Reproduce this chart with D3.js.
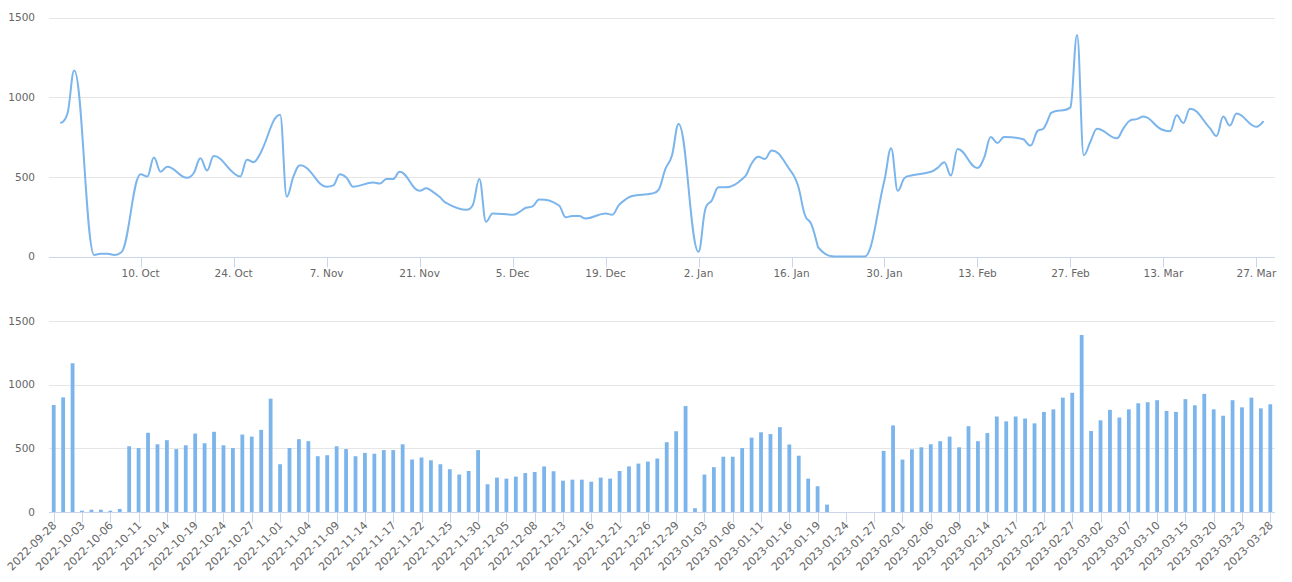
<!DOCTYPE html>
<html>
<head>
<meta charset="utf-8">
<script src="https://cdn.jsdelivr.net/npm/d3@7"></script>
<style>
  html, body { margin: 0; padding: 0; background: #fff; }
  svg { display: block; }
  text { font-family: "DejaVu Sans", Verdana, sans-serif; font-size: 10.5px; fill: #666666; }
  text.rot { font-size: 11px; }
</style>
</head>
<body>
<svg id="chart" width="1292" height="582"></svg>
<script>
// ---------- data ----------
const categories = [
  "2022-09-28","2022-09-29","2022-09-30",
  "2022-10-03","2022-10-04","2022-10-05","2022-10-06","2022-10-07",
  "2022-10-10","2022-10-11","2022-10-12","2022-10-13","2022-10-14",
  "2022-10-17","2022-10-18","2022-10-19","2022-10-20","2022-10-21",
  "2022-10-24","2022-10-25","2022-10-26","2022-10-27","2022-10-28",
  "2022-10-31","2022-11-01","2022-11-02","2022-11-03","2022-11-04",
  "2022-11-07","2022-11-08","2022-11-09","2022-11-10","2022-11-11",
  "2022-11-14","2022-11-15","2022-11-16","2022-11-17","2022-11-18",
  "2022-11-21","2022-11-22","2022-11-23","2022-11-24","2022-11-25",
  "2022-11-28","2022-11-29","2022-11-30","2022-12-01","2022-12-02",
  "2022-12-05","2022-12-06","2022-12-07","2022-12-08","2022-12-09",
  "2022-12-12","2022-12-13","2022-12-14","2022-12-15","2022-12-16",
  "2022-12-19","2022-12-20","2022-12-21","2022-12-22","2022-12-23",
  "2022-12-26","2022-12-27","2022-12-28","2022-12-29","2022-12-30",
  "2023-01-02","2023-01-03","2023-01-04","2023-01-05","2023-01-06",
  "2023-01-09","2023-01-10","2023-01-11","2023-01-12","2023-01-13",
  "2023-01-16","2023-01-17","2023-01-18","2023-01-19","2023-01-20",
  "2023-01-23","2023-01-24","2023-01-25","2023-01-26","2023-01-27",
  "2023-01-30","2023-01-31","2023-02-01","2023-02-02","2023-02-03",
  "2023-02-06","2023-02-07","2023-02-08","2023-02-09","2023-02-10",
  "2023-02-13","2023-02-14","2023-02-15","2023-02-16","2023-02-17",
  "2023-02-20","2023-02-21","2023-02-22","2023-02-23","2023-02-24",
  "2023-02-27","2023-02-28","2023-03-01","2023-03-02","2023-03-03",
  "2023-03-06","2023-03-07","2023-03-08","2023-03-09","2023-03-10",
  "2023-03-13","2023-03-14","2023-03-15","2023-03-16","2023-03-17",
  "2023-03-20","2023-03-21","2023-03-22","2023-03-23","2023-03-24",
  "2023-03-27","2023-03-28"
];

const values = [
  840, 900, 1168,
  10, 18, 18, 10, 24,
  516, 502, 622, 532, 564,
  494, 524, 616, 540, 630,
  524, 502, 608, 592, 645,
  890, 375, 502, 572, 556,
  438, 446, 516, 494, 438,
  464, 458, 486, 486, 532,
  412, 428, 406, 375, 336,
  294, 322, 486, 218, 270,
  262, 278, 306, 314, 358,
  320, 246, 254, 254, 238,
  270, 262, 322, 358, 380,
  396, 420, 548, 634, 832,
  30, 294, 352, 434, 434,
  502, 584, 626, 612, 666,
  530, 442, 262, 202, 58,
  0, 0, 0, 0, 0,
  480, 680, 412, 492, 508,
  532, 556, 592, 508, 674,
  556, 620, 750, 712, 750,
  734, 696, 786, 806, 898,
  936, 1390, 636, 720, 802,
  742, 806, 854, 862, 878,
  794, 786, 886, 838, 928,
  806, 756, 878, 822, 898,
  814, 846
];

const yTicks = [0, 500, 1000, 1500];
const topTickDates = [
  "2022-10-10","2022-10-24","2022-11-07","2022-11-21","2022-12-05","2022-12-19",
  "2023-01-02","2023-01-16","2023-01-30","2023-02-13","2023-02-27","2023-03-13","2023-03-27"
];
const labelEvery = 3;

// ---------- helpers ----------
const parse = d3.utcParse("%Y-%m-%d");
const dates = categories.map(parse);
const fmtTop = d3.utcFormat("%-d. %b");

// Highcharts-style spline curve
function hcSpline(context) {
  let pts;
  return {
    areaStart() {}, areaEnd() {},
    lineStart() { pts = []; },
    point(x, y) { pts.push([+x, +y]); },
    lineEnd() {
      const n = pts.length;
      if (!n) return;
      const s = 1.5, den = s + 1;
      let prevRight = null;
      context.moveTo(pts[0][0], pts[0][1]);
      for (let i = 1; i < n; i++) {
        const px = pts[i][0], py = pts[i][1];
        let lcx = px, lcy = py, rc = null;
        if (i < n - 1) {
          const lx = pts[i - 1][0], ly = pts[i - 1][1];
          const nx = pts[i + 1][0], ny = pts[i + 1][1];
          lcx = (s * px + lx) / den; lcy = (s * py + ly) / den;
          let rcx = (s * px + nx) / den, rcy = (s * py + ny) / den;
          let corr = 0;
          if (rcx !== lcx) corr = ((rcy - lcy) * (rcx - px)) / (rcx - lcx) + py - rcy;
          lcy += corr; rcy += corr;
          if (lcy > ly && lcy > py) { lcy = Math.max(ly, py); rcy = 2 * py - lcy; }
          else if (lcy < ly && lcy < py) { lcy = Math.min(ly, py); rcy = 2 * py - lcy; }
          if (rcy > ny && rcy > py) { rcy = Math.max(ny, py); lcy = 2 * py - rcy; }
          else if (rcy < ny && rcy < py) { rcy = Math.min(ny, py); lcy = 2 * py - rcy; }
          rc = [rcx, rcy];
        }
        const a = prevRight || pts[i - 1];
        context.bezierCurveTo(a[0], a[1], lcx, lcy, px, py);
        prevRight = rc;
      }
    }
  };
}

const svg = d3.select("#chart");
const plotLeft = 49, plotRight = 1275;
const color = "#7cb5ec";
const gridColor = "#e6e6e6";
const axisColor = "#ccd6eb";
const DAY = 864e5;

// ---------- top: spline over time ----------
const topArea = { y0: 256.5, y1: 17.5 };
const pad = 1.8 * DAY;
const xTime = d3.scaleUtc()
  .domain([new Date(+dates[0] - pad), new Date(+dates[dates.length - 1] + pad)])
  .range([plotLeft, plotRight]);
const yTop = d3.scaleLinear().domain([0, 1500]).range([topArea.y0, topArea.y1]);

const gTop = svg.append("g");
gTop.append("g").selectAll("line").data(yTicks).join("line")
  .attr("x1", plotLeft).attr("x2", plotRight)
  .attr("y1", d => Math.round(yTop(d)) + 0.5).attr("y2", d => Math.round(yTop(d)) + 0.5)
  .attr("stroke", gridColor).attr("stroke-width", 1);
gTop.append("g").selectAll("text").data(yTicks).join("text")
  .attr("x", 35).attr("y", d => yTop(d)).attr("dy", "0.36em")
  .attr("text-anchor", "end").text(d => d);

const topAxisY = Math.round(yTop(0)) + 0.5;
gTop.append("line").attr("x1", plotLeft).attr("x2", plotRight)
  .attr("y1", topAxisY).attr("y2", topAxisY).attr("stroke", axisColor);
const tTicks = topTickDates.map(parse);
gTop.append("g").selectAll("line").data(tTicks).join("line")
  .attr("x1", d => Math.round(xTime(d)) + 0.5).attr("x2", d => Math.round(xTime(d)) + 0.5)
  .attr("y1", topAxisY).attr("y2", topAxisY + 10).attr("stroke", axisColor);
gTop.append("g").selectAll("text").data(tTicks).join("text")
  .attr("x", d => xTime(d)).attr("y", 277).attr("text-anchor", "middle")
  .text(d => fmtTop(d));

const line = d3.line()
  .x((d, i) => xTime(dates[i]))
  .y(d => yTop(d))
  .curve(hcSpline);
gTop.append("path").datum(values)
  .attr("d", line).attr("fill", "none")
  .attr("stroke", color).attr("stroke-width", 2)
  .attr("stroke-linejoin", "round").attr("stroke-linecap", "round");

// ---------- bottom: columns over categories ----------
const yBot = d3.scaleLinear().domain([0, 1500]).range([512, 321]);
const xBand = d3.scaleBand().domain(categories).range([plotLeft, plotRight]).padding(0);

const gBot = svg.append("g");
gBot.append("g").selectAll("line").data(yTicks).join("line")
  .attr("x1", plotLeft).attr("x2", plotRight)
  .attr("y1", d => Math.round(yBot(d)) + 0.5).attr("y2", d => Math.round(yBot(d)) + 0.5)
  .attr("stroke", gridColor).attr("stroke-width", 1);
gBot.append("g").selectAll("text").data(yTicks).join("text")
  .attr("x", 35).attr("y", d => yBot(d)).attr("dy", "0.36em")
  .attr("text-anchor", "end").text(d => d);

const bw = 3.8;
gBot.append("g").selectAll("rect").data(values).join("rect")
  .attr("x", (d, i) => xBand(categories[i]) + xBand.bandwidth() / 2 - bw / 2)
  .attr("width", bw)
  .attr("y", d => yBot(d))
  .attr("height", d => yBot(0) - yBot(d))
  .attr("fill", color);

const botAxisY = Math.round(yBot(0)) + 0.5;
gBot.append("line").attr("x1", plotLeft).attr("x2", plotRight)
  .attr("y1", botAxisY).attr("y2", botAxisY).attr("stroke", axisColor);
const labelled = categories.filter((c, i) => i % labelEvery === 0);
const cx = c => xBand(c) + xBand.bandwidth() / 2;
gBot.append("g").selectAll("line").data(labelled).join("line")
  .attr("x1", d => Math.round(cx(d)) + 0.5).attr("x2", d => Math.round(cx(d)) + 0.5)
  .attr("y1", botAxisY).attr("y2", botAxisY + 10).attr("stroke", axisColor);
gBot.append("g").selectAll("text").data(labelled).join("text")
  .attr("class", "rot")
  .attr("transform", d => `translate(${cx(d) + 3.5},${526}) rotate(-45)`)
  .attr("text-anchor", "end")
  .text(d => d);
</script>
</body>
</html>
